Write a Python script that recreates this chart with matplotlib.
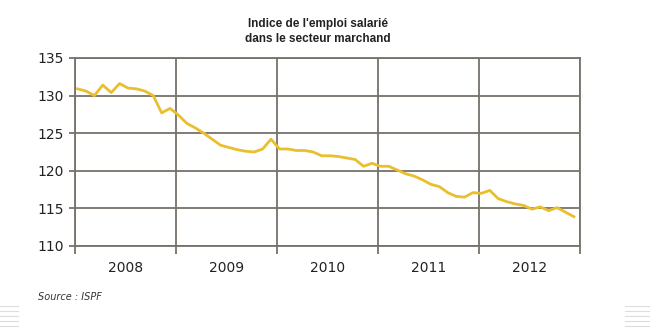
import numpy as np
import matplotlib.pyplot as plt
from matplotlib.lines import Line2D

# === DONNÉES (mensuelles, janv. 2008 -> déc. 2012) ===
years = ["2008", "2009", "2010", "2011", "2012"]
indice = [
    130.9, 130.6, 130.0, 131.4, 130.4, 131.6, 131.0, 130.9, 130.6, 130.0, 127.7, 128.3,
    127.4, 126.3, 125.7, 125.0, 124.2, 123.4, 123.1, 122.8, 122.6, 122.5, 122.9, 124.2,
    122.9, 122.9, 122.7, 122.7, 122.5, 122.0, 122.0, 121.9, 121.7, 121.5, 120.6, 121.0,
    120.6, 120.6, 120.1, 119.6, 119.3, 118.8, 118.2, 117.9, 117.1, 116.6, 116.5, 117.1,
    117.0, 117.4, 116.3, 115.9, 115.6, 115.4, 114.9, 115.2, 114.7, 115.1, 114.5, 113.9,
]
y_ticks = [110, 115, 120, 125, 130, 135]

GRID = "#77716b"
LINE = "#e9bf2e"

fig = plt.figure(figsize=(6.5, 3.31), dpi=100)
ax = fig.add_axes([0.1154, 0.2568, 0.7766, 0.568])

x = np.arange(len(indice)) + 0.3
ax.plot(x, indice, color=LINE, linewidth=2.0, solid_joinstyle="round", zorder=3)

ax.set_xlim(0, 60)
ax.set_ylim(110, 135)
ax.set_yticks(y_ticks)
ax.set_xticks(np.arange(0, 61, 12))
ax.set_xticklabels([])
ax.set_xticks(np.arange(6, 60, 12), minor=True)
ax.set_xticklabels(years, minor=True)

ax.grid(True, which="major", color=GRID, linewidth=1.3)
for s in ax.spines.values():
    s.set_color(GRID)
    s.set_linewidth(1.3)

ax.tick_params(axis="x", which="major", length=6, width=1.3, color=GRID, direction="out")
ax.tick_params(axis="x", which="minor", length=0, pad=11, labelsize=10, labelcolor="#222222")
ax.tick_params(axis="y", length=4, width=1.3, color=GRID, labelsize=10,
               labelcolor="#222222", pad=4)

fig.text(0.489, 0.905, "Indice de l'emploi salarié\ndans le secteur marchand",
         ha="center", va="center", fontsize=8.5, fontweight="bold",
         family="Liberation Sans", color="#222222", linespacing=1.3)
fig.text(0.058, 0.095, "Source : ISPF", fontsize=7, style="italic", color="#333333")

# petits traits décoratifs en bas à gauche et à droite
for yy in [0.075, 0.06, 0.045, 0.03, 0.015]:
    fig.add_artist(Line2D([0, 0.028], [yy, yy], color="#dddddd", linewidth=0.8))
    fig.add_artist(Line2D([0.962, 1], [yy, yy], color="#dddddd", linewidth=0.8))

fig.savefig("out.png", dpi=100)
